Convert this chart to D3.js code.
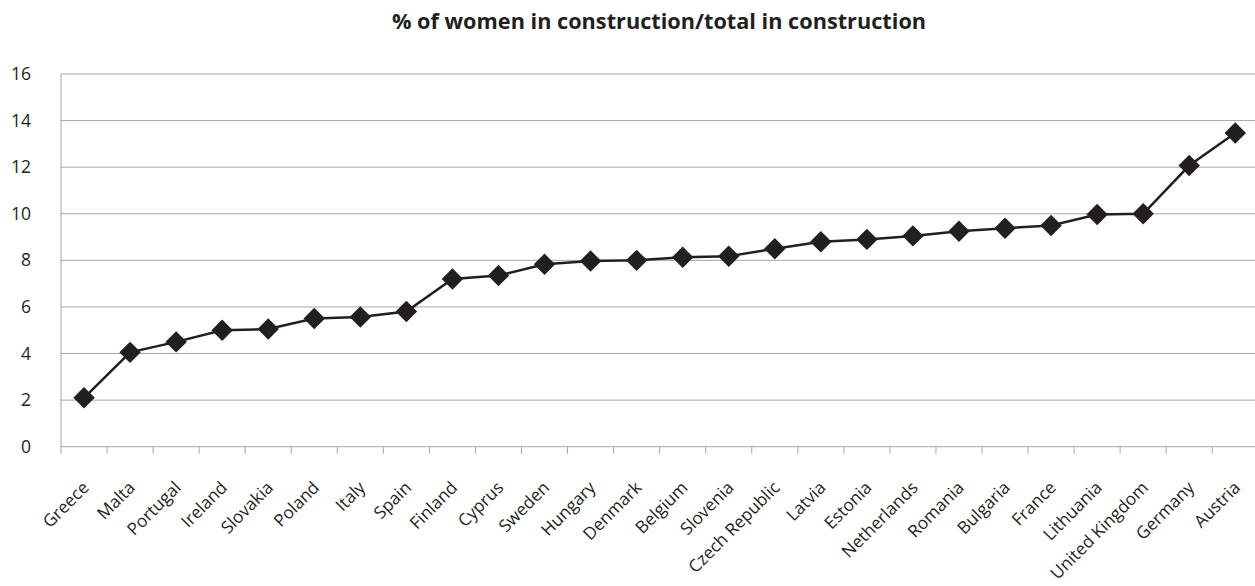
<!DOCTYPE html>
<html><head><meta charset="utf-8">
<script src="https://cdn.jsdelivr.net/npm/d3@7"></script>
<style>html,body{margin:0;padding:0;background:#fff;overflow:hidden;}</style>
</head><body>
<svg id="c" width="1255" height="586"></svg>
<script>
const categories = ["Greece","Malta","Portugal","Ireland","Slovakia","Poland","Italy","Spain","Finland","Cyprus","Sweden","Hungary","Denmark","Belgium","Slovenia","Czech Republic","Latvia","Estonia","Netherlands","Romania","Bulgaria","France","Lithuania","United Kingdom","Germany","Austria"];
const values = [2.1,4.05,4.5,5.0,5.05,5.5,5.57,5.8,7.2,7.35,7.83,7.97,8.0,8.13,8.18,8.5,8.8,8.9,9.05,9.25,9.38,9.5,9.97,10.0,12.07,13.47];
const yTicks = [0,2,4,6,8,10,12,14,16];
const title = "% of women in construction/total in construction";

(function(){
const svg = d3.select("#c");
const font = "'Open Sans', sans-serif";
const mLeft = 61, mRight = 1258.3, mTop = 74, mBottom = 446.7;
const x = d3.scaleBand().domain(categories).range([mLeft, mRight]);
const y = d3.scaleLinear().domain([0,16]).range([mBottom, mTop]);
const grid = "#a6a6a6";

svg.append("text").attr("x", 659).attr("y", 29).attr("text-anchor","middle")
  .attr("font-family", font).attr("font-weight","bold").attr("font-size", 21.7).attr("fill","#231f20").text(title);

svg.append("g").selectAll("line").data(yTicks).join("line")
  .attr("x1", mLeft).attr("x2", mRight).attr("y1", d=>y(d)).attr("y2", d=>y(d))
  .attr("stroke", grid).attr("stroke-width", 1);
svg.append("line").attr("x1", mLeft).attr("x2", mLeft).attr("y1", mTop).attr("y2", mBottom)
  .attr("stroke", grid);
svg.append("g").selectAll("text").data(yTicks).join("text")
  .attr("x", 31).attr("y", d=>y(d)).attr("dy","0.35em").attr("text-anchor","end")
  .attr("font-family", font).attr("font-size", 17.5).attr("fill","#231f20").text(d=>d);
const tickPos = categories.map(c=>x(c)).concat([mRight]);
svg.append("g").selectAll("line").data(tickPos).join("line")
  .attr("x1", d=>d).attr("x2", d=>d).attr("y1", mBottom).attr("y2", mBottom+7)
  .attr("stroke", grid);
svg.append("g").selectAll("text").data(categories).join("text")
  .attr("transform", d=>`translate(${x(d)+x.bandwidth()/2+6},${mBottom+42}) rotate(-45)`)
  .attr("text-anchor","end")
  .attr("font-family", font).attr("font-size", 17.2).attr("fill","#231f20").text(d=>d);

const cx = d => x(d) + x.bandwidth()/2;
const line = d3.line().x((d,i)=>cx(categories[i])).y(d=>y(d));
svg.append("path").datum(values).attr("d", line).attr("fill","none")
  .attr("stroke","#231f20").attr("stroke-width", 2.5);
const sym = d3.symbol().type(d3.symbolSquare).size(230);
svg.append("g").selectAll("path").data(values).join("path")
  .attr("d", sym).attr("transform", (d,i)=>`translate(${cx(categories[i])},${y(d)}) rotate(45)`)
  .attr("fill","#231f20");
})();
</script>
</body></html>
